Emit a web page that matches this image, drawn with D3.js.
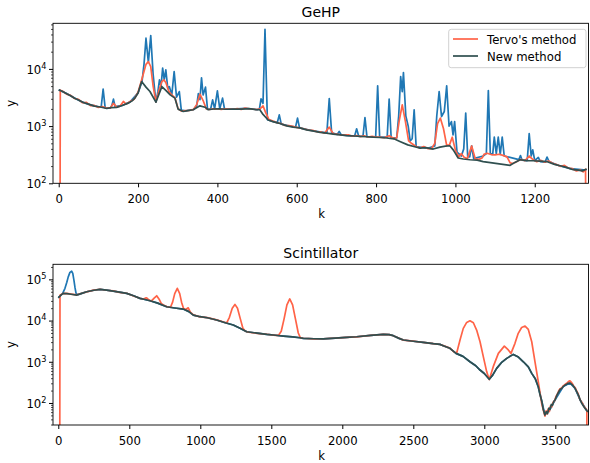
<!DOCTYPE html>
<html>
<head>
<meta charset="utf-8">
<script src="https://cdn.jsdelivr.net/npm/d3@7"></script>
<style>
body { margin: 0; background: #fff; }
text { font-family: "DejaVu Sans", sans-serif; fill: #000; }
</style>
</head>
<body>
<div id="chart"></div>
<script>
/* GeHP spectrum: [k, counts] */
var geRaw = [[0,4300],[20,3700],[40,3100],[60,2620],[80,2350],[100,2180],[107,2150],[112,4430],[117,2100],[130,2080],[134,2300],[138,2960],[142,2200],[160,2300],[180,2650],[200,3800],[210,6000],[215,12000],[220,34400],[226,13000],[232,38100],[238,8000],[245,2620],[250,4000],[254,6430],[258,5000],[262,10300],[266,6500],[270,9600],[275,4500],[279,4900],[285,3500],[291,8980],[297,3200],[304,4020],[309,1900],[320,1850],[340,1950],[348,2300],[352,3700],[356,2900],[360,7000],[364,3500],[370,4800],[375,2000],[383,1990],[388,2880],[393,2000],[400,4130],[406,2000],[413,3080],[418,1990],[440,1980],[470,2050],[500,1940],[506,2000],[510,2990],[515,2500],[520,49300],[526,1300],[540,1210],[551,1150],[556,1570],[561,1080],[580,1010],[597,960],[602,1380],[607,930],[640,830],[676,760],[682,3030],[688,760],[702,715],[707,805],[712,705],[746,670],[751,898],[756,670],[767,665],[772,1410],[777,650],[799,650],[804,5050],[809,640],[828,640],[833,2960],[838,630],[852,620],[857,1500],[862,7340],[866,4000],[869,8610],[875,1500],[881,1000],[886,550],[891,600],[896,1930],[901,440],[930,410],[948,450],[953,1500],[959,4020],[965,1470],[972,1800],[978,5050],[984,1000],[990,1200],[994,700],[998,1200],[1004,350],[1015,300],[1021,400],[1026,1690],[1031,290],[1036,290],[1041,453],[1046,270],[1070,300],[1078,330],[1083,4180],[1088,330],[1094,320],[1098,640],[1103,330],[1108,640],[1113,320],[1118,640],[1123,300],[1160,260],[1164,305],[1168,255],[1181,250],[1186,740],[1191,300],[1195,385],[1200,250],[1209,283],[1214,240],[1226,235],[1231,288],[1236,240],[1260,205],[1290,180],[1330,170]];

var geTervo = [[3,1],[4,4250],[10,4060],[20,3620],[30,3450],[40,3040],[50,2930],[60,2560],[70,2600],[80,2280],[90,2300],[100,2120],[110,2200],[120,2060],[130,2060],[138,2500],[146,2150],[155,2240],[163,2700],[170,2420],[180,2700],[190,2950],[200,3900],[209,6400],[215,9000],[220,12000],[226,13400],[232,11000],[238,5000],[245,2650],[254,4500],[260,6000],[265,6430],[270,5800],[278,4000],[285,3500],[293,3150],[301,2000],[310,1820],[320,1870],[330,1880],[340,1960],[348,2400],[356,3610],[364,2800],[372,2000],[380,1950],[390,2010],[400,1990],[410,1960],[420,2010],[430,1990],[440,1970],[450,2020],[460,1960],[470,2060],[480,2010],[490,1970],[500,1950],[508,2010],[515,2260],[522,1700],[530,1300],[540,1220],[550,1150],[560,1110],[570,1030],[580,1020],[590,990],[600,950],[610,920],[620,890],[630,850],[640,840],[650,800],[660,795],[670,750],[682,960],[692,735],[700,725],[710,705],[720,695],[730,705],[740,665],[750,685],[760,655],[770,675],[780,645],[790,665],[800,645],[810,640],[820,625],[833,680],[845,605],[852,625],[858,1200],[866,2350],[874,1200],[882,550],[890,495],[900,445],[910,415],[920,440],[930,405],[940,405],[948,500],[955,1100],[962,1380],[970,900],[978,460],[985,470],[992,640],[1000,380],[1008,290],[1015,330],[1022,285],[1030,270],[1041,450],[1050,268],[1060,262],[1068,280],[1072,320],[1080,335],[1090,318],[1100,315],[1110,322],[1120,308],[1130,290],[1138,228],[1145,222],[1155,240],[1165,262],[1175,248],[1186,300],[1195,262],[1205,238],[1215,252],[1225,234],[1235,246],[1245,224],[1255,212],[1265,198],[1275,206],[1285,184],[1295,180],[1305,164],[1315,172],[1322,158],[1328,176],[1330,1]];

var geNew = [[0,4300],[10,4020],[20,3680],[30,3400],[40,3080],[50,2870],[62,2580],[75,2420],[90,2240],[105,2160],[121,2030],[133,2110],[146,2130],[160,2290],[175,2520],[185,2760],[192,3080],[200,3800],[209,6000],[220,4800],[230,4020],[245,2620],[260,4900],[270,4200],[281,3510],[293,3080],[301,1980],[314,1800],[325,1860],[339,1930],[356,2260],[369,2140],[377,1930],[390,1990],[405,2010],[420,1970],[440,1990],[460,1980],[480,2020],[500,1930],[507,1930],[515,1600],[528,1280],[540,1200],[554,1130],[575,1010],[591,960],[608,930],[625,860],[640,825],[659,775],[675,752],[692,725],[710,700],[726,680],[745,672],[760,660],[777,652],[793,640],[810,632],[827,620],[845,600],[860,540],[880,470],[900,432],[911,413],[925,420],[944,397],[961,430],[975,445],[986,453],[995,380],[1007,277],[1020,266],[1037,258],[1055,254],[1070,240],[1138,206],[1150,232],[1163,258],[1180,250],[1196,248],[1213,244],[1230,240],[1250,214],[1264,203],[1280,190],[1297,173],[1310,170],[1320,165],[1331,178]];

/* Scintillator spectrum */
var scRaw = [[0,36000],[15,40000],[30,45000],[47,60500],[60,85000],[70,115000],[82,148000],[94,158000],[102,140000],[110,96000],[118,62000],[125,46000],[135,42000],[160,45000],[200,50000],[250,54500],[294,57200],[340,55000],[387,52000],[430,49000],[482,45700],[530,40000],[575,34600],[610,32500],[646,30300],[700,26500],[763,21600],[820,20200],[880,19000],[920,16500],[951,13600],[998,12400],[1050,11700],[1115,10300],[1170,9000],[1232,7780],[1280,6500],[1327,5350],[1400,4950],[1468,4620],[1530,4400],[1585,4210],[1650,4000],[1702,3830],[1725,3700],[1800,3620],[1866,3600],[1950,3750],[2030,3900],[2101,4050],[2200,4350],[2289,4620],[2330,4550],[2359,4300],[2400,3700],[2430,3370],[2500,3150],[2570,2960],[2640,2750],[2688,2640],[2711,2450],[2758,2120],[2801,1600],[2850,1350],[2899,1000],[2940,800],[2970,630],[3000,520],[3035,375],[3060,480],[3087,690],[3120,950],[3158,1210],[3204,1510],[3240,1300],[3275,1000],[3310,750],[3334,523],[3360,380],[3380,247],[3405,110],[3427,51],[3463,70],[3498,118],[3556,250],[3603,305],[3639,226],[3674,120],[3721,66]];

var scTervo = [[10,1],[12,41000],[30,45000],[60,45500],[90,44000],[130,42000],[160,45500],[200,49500],[250,55000],[294,57500],[340,54500],[387,52500],[430,48500],[482,46000],[530,39500],[575,34800],[600,33000],[612,35000],[622,35700],[632,33000],[646,30500],[660,31000],[675,35000],[693,40000],[710,33000],[725,26000],[740,24000],[763,21800],[790,21000],[805,28000],[820,45000],[838,60500],[855,45000],[868,28000],[882,19500],[898,18500],[915,20400],[930,16000],[951,13700],[998,12300],[1050,11800],[1115,10400],[1170,9100],[1186,8800],[1205,12000],[1225,20000],[1244,24700],[1262,20000],[1282,11000],[1300,6500],[1318,5500],[1340,5200],[1400,4900],[1468,4650],[1530,4350],[1550,4350],[1570,5500],[1590,11000],[1610,24000],[1630,33500],[1650,24000],[1670,11000],[1690,5000],[1705,3800],[1725,3720],[1800,3600],[1866,3620],[1950,3730],[2030,3920],[2101,4030],[2200,4380],[2289,4600],[2330,4560],[2359,4280],[2400,3720],[2430,3350],[2500,3170],[2570,2940],[2640,2770],[2688,2620],[2711,2460],[2758,2140],[2790,1700],[2806,1650],[2829,3370],[2852,6460],[2876,9000],[2899,9890],[2923,8850],[2946,5880],[2970,3060],[2993,1330],[3017,570],[3035,370],[3063,760],[3099,1600],[3141,2400],[3169,1940],[3188,1600],[3216,2800],[3239,4900],[3263,6800],[3287,7360],[3310,6100],[3334,3060],[3357,1000],[3380,330],[3404,98],[3415,68],[3427,48],[3435,64],[3442,54],[3450,72],[3458,62],[3466,85],[3475,80],[3485,105],[3495,112],[3505,145],[3515,165],[3525,200],[3535,225],[3545,230],[3555,260],[3565,275],[3575,295],[3585,310],[3595,335],[3603,345],[3612,320],[3620,295],[3630,255],[3640,235],[3650,195],[3660,170],[3670,130],[3680,112],[3690,100],[3700,84],[3710,76],[3718,70],[3722,66],[3724,1]];

var scNew = [[0,35700],[20,42000],[35,45700],[60,45000],[90,43500],[130,41600],[160,45000],[200,50000],[250,54500],[294,57200],[340,55000],[387,52000],[430,49000],[482,45700],[530,40000],[575,34600],[610,32500],[646,30300],[700,26500],[763,21600],[820,20200],[880,19000],[920,16500],[951,13600],[998,12400],[1050,11700],[1115,10300],[1170,9000],[1232,7780],[1280,6500],[1327,5350],[1400,4950],[1468,4620],[1530,4400],[1585,4210],[1650,4000],[1702,3830],[1725,3700],[1800,3620],[1866,3600],[1950,3750],[2030,3900],[2101,4050],[2200,4350],[2289,4620],[2330,4550],[2359,4300],[2400,3700],[2430,3370],[2500,3150],[2570,2960],[2640,2750],[2688,2640],[2711,2450],[2758,2120],[2801,1600],[2850,1350],[2899,1000],[2940,800],[2970,630],[3000,520],[3035,375],[3060,480],[3087,690],[3120,950],[3158,1210],[3204,1510],[3240,1300],[3275,1000],[3310,750],[3334,523],[3360,380],[3380,247],[3392,160],[3405,110],[3415,70],[3427,51],[3437,62],[3445,55],[3455,75],[3463,70],[3472,92],[3480,88],[3490,110],[3498,118],[3510,150],[3520,175],[3535,215],[3545,225],[3556,250],[3568,270],[3580,285],[3590,300],[3603,305],[3612,290],[3620,275],[3630,250],[3639,226],[3650,190],[3660,162],[3668,140],[3674,120],[3685,100],[3695,88],[3705,78],[3712,72],[3721,66],[3730,60]];

var geXTicks = [0, 200, 400, 600, 800, 1000, 1200];
var scXTicks = [0, 500, 1000, 1500, 2000, 2500, 3000, 3500];
var geYTicks = [100, 1000, 10000];
var scYTicks = [100, 1000, 10000, 100000];
var legendLabels = ["Tervo's method", "New method"];

var colors = { raw: "#1f77b4", tervo: "#ff6347", fresh: "#2f4f4f" };

var panels = [
	{ id: "ge", title: "GeHP", raw: geRaw, tervo: geTervo, fresh: geNew,
	  xDomain: [-14.4, 1335.5], yDomain: [100, 62700], xTicks: geXTicks, yTicks: geYTicks,
	  top: 23.3, bottom: 183.3, legend: true },
	{ id: "sc", title: "Scintillator", raw: scRaw, tervo: scTervo, fresh: scNew,
	  xDomain: [-37.3, 3733.8], yDomain: [29.2, 232000], xTicks: scXTicks, yTicks: scYTicks,
	  top: 264.3, bottom: 425, legend: false }
];

var left = 53, right = 588.5;

var svg = d3.select("#chart")
	.append("svg")
	.attr("width", 590)
	.attr("height", 463);

panels.forEach(function(p) {
	var xScale = d3.scaleLinear().domain(p.xDomain).range([left, right]);
	var yScale = d3.scaleLog().domain(p.yDomain).range([p.bottom, p.top]);

	svg.append("clipPath")
		.attr("id", "clip-" + p.id)
		.append("rect")
		.attr("x", left).attr("y", p.top)
		.attr("width", right - left).attr("height", p.bottom - p.top);

	var line = d3.line()
		.x(function(d) { return xScale(d[0]); })
		.y(function(d) { return yScale(d[1]); });

	var plot = svg.append("g").attr("clip-path", "url(#clip-" + p.id + ")");
	[["raw", p.raw], ["tervo", p.tervo], ["fresh", p.fresh]].forEach(function(s) {
		plot.append("path")
			.datum(s[1])
			.attr("d", line)
			.attr("fill", "none")
			.attr("stroke", colors[s[0]])
			.attr("stroke-width", 1.7)
			.attr("stroke-linejoin", "round");
	});

	// x axis
	var xAxis = d3.axisBottom(xScale).tickValues(p.xTicks).tickSize(4).tickPadding(4)
		.tickFormat(d3.format("d"));
	var gx = svg.append("g")
		.attr("transform", "translate(0," + p.bottom + ")")
		.call(xAxis);
	gx.select(".domain").remove();
	gx.selectAll("text").attr("font-size", 11.7).attr("dy", null).attr("y", 19.5);

	// y axis: minor ticks then major ticks with 10^n labels
	var minor = yScale.ticks().filter(function(v) { return p.yTicks.indexOf(v) < 0; });
	var gm = svg.append("g")
		.attr("transform", "translate(" + left + ",0)")
		.call(d3.axisLeft(yScale).tickValues(minor).tickSize(2).tickFormat(""));
	gm.select(".domain").remove();
	gm.selectAll("line").attr("stroke-width", 0.7);

	var gy = svg.append("g")
		.attr("transform", "translate(" + left + ",0)")
		.call(d3.axisLeft(yScale).tickValues(p.yTicks).tickSize(4).tickFormat(""));
	gy.select(".domain").remove();
	gy.selectAll(".tick").each(function(v) {
		var t = d3.select(this).append("text")
			.attr("x", -6.5).attr("y", 4.3)
			.attr("text-anchor", "end")
			.attr("font-size", 11.7);
		t.append("tspan").text("10");
		t.append("tspan").attr("dy", -5).attr("font-size", 8.2).text(Math.round(Math.log10(v)));
	});

	// frame
	svg.append("rect")
		.attr("x", left).attr("y", p.top)
		.attr("width", right - left).attr("height", p.bottom - p.top)
		.attr("fill", "none").attr("stroke", "#000").attr("stroke-width", 0.9);

	svg.append("text")
		.text(p.title)
		.attr("x", (left + right) / 2).attr("y", p.top - 6.3)
		.attr("text-anchor", "middle").attr("font-size", 14);

	svg.append("text")
		.text("k")
		.attr("x", (left + right) / 2 + 1).attr("y", p.bottom + 35)
		.attr("text-anchor", "middle").attr("font-size", 11.7);

	svg.append("text")
		.text("y")
		.attr("transform", "translate(15," + (p.top + p.bottom) / 2 + ") rotate(-90)")
		.attr("text-anchor", "middle").attr("font-size", 11.7);

	if (p.legend) {
		var lg = svg.append("g");
		lg.append("rect")
			.attr("x", 448.7).attr("y", 29.3).attr("width", 137.3).attr("height", 38.4)
			.attr("rx", 2.5)
			.attr("fill", "#fff").attr("fill-opacity", 0.8)
			.attr("stroke", "#ccc").attr("stroke-width", 0.9);
		[["tervo", 39], ["fresh", 56]].forEach(function(e, i) {
			lg.append("line")
				.attr("x1", 453).attr("x2", 478).attr("y1", e[1]).attr("y2", e[1])
				.attr("stroke", colors[e[0]]).attr("stroke-width", 1.7);
			lg.append("text")
				.text(legendLabels[i])
				.attr("x", 487).attr("y", e[1] + 5)
				.attr("font-size", 11.7);
		});
	}
});
</script>
</body>
</html>
